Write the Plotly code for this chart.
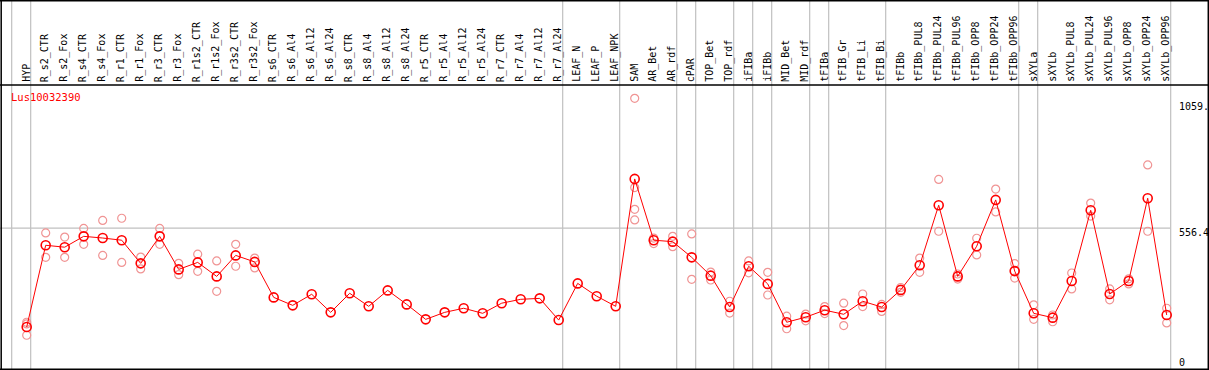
import plotly.graph_objects as go

labels = ["HYP", "R_s2_CTR", "R_s2_Fox", "R_s4_CTR", "R_s4_Fox", "R_r1_CTR", "R_r1_Fox",
          "R_r3_CTR", "R_r3_Fox", "R_r1s2_CTR", "R_r1s2_Fox", "R_r3s2_CTR", "R_r3s2_Fox",
          "R_s6_CTR", "R_s6_Al4", "R_s6_Al12", "R_s6_Al24", "R_s8_CTR", "R_s8_Al4",
          "R_s8_Al12", "R_s8_Al24", "R_r5_CTR", "R_r5_Al4", "R_r5_Al12", "R_r5_Al24",
          "R_r7_CTR", "R_r7_Al4", "R_r7_Al12", "R_r7_Al24", "LEAF_N", "LEAF_P", "LEAF_NPK",
          "SAM", "AR_Bet", "AR_rdf", "cPAR", "TOP_Bet", "TOP_rdf", "iFIBa", "iFIBb",
          "MID_Bet", "MID_rdf", "tFIBa", "tFIB_Gr", "tFIB_Li", "tFIB_Bi", "tFIBb",
          "tFIBb_PUL8", "tFIBb_PUL24", "tFIBb_PUL96", "tFIBb_OPP8", "tFIBb_OPP24", "tFIBb_OPP96",
          "sXYLa", "sXYLb", "sXYLb_PUL8", "sXYLb_PUL24", "sXYLb_PUL96", "sXYLb_OPP8",
          "sXYLb_OPP24", "sXYLb_OPP96"]

mean_vals = [146, 485, 477, 522, 515, 506, 410, 522, 385, 414, 356, 443, 416,
             269, 236, 282, 207, 286, 232, 298, 240, 178, 207, 224, 203, 245, 261, 265, 175,
             327, 274, 232, 760, 506, 500, 435, 359, 229, 398, 325, 166, 187, 216, 199, 253,
             229, 300, 402, 651, 356, 481, 673, 378, 203, 185, 337, 630, 283, 337, 680, 196]

rep_a = [112, 536, 519, 555, 588, 597, 436, 555, 410, 448, 420, 489, 432,
         None, None, None, None, None, None, None, None, None, None, None, None, None, None,
         None, None, None, None, None, 1094, 515, 522, 532, 374, 253, 420, 373, 191, 200,
         231, 245, 283, 240, 310, 432, 758, 366, 514, 718, 409, 238, 196, 370, 660, 304,
         346, 818, 224]
rep_b = [159, 435, 435, 489, 443, 414, 387, 489, 363, 377, 294, 398, 391,
         None, None, None, None, None, None, None, None, None, None, None, None, None, None,
         None, None, None, None, None, 634, 492, 479, 344, 341, 204, 371, 279, 139, 172,
         202, 152, 231, 211, 290, 373, 543, 345, 445, 623, 349, 178, 168, 304, 606, 259,
         325, 543, 163]
rep_c = [166] + [None] * 31 + [590] + [None] * 28
rep_d = [None] * 32 + [724] + [None] * 28

group_starts = [0, 1, 29, 32, 35, 36, 38, 39, 40, 42, 43, 46, 53, 54, 61]
y_ticks = [0, 556.4, 1059]
y_tick_text = ["0", "556.4", "1059."]
gene = "Lus10032390"

W, H = 1209, 370
xs = list(range(len(labels)))
x_lo = -26.7 / 19
x_hi = (W - 26.7) / 19
y_per_px = 1 / 0.2413
y_lo = (362.3 - H) * y_per_px
y_hi = 362.3 * y_per_px


def py(p):
    return 1 - p / H


def px(p):
    return p / W


fig = go.Figure()
pink = "#F09494"
for reps in (rep_a, rep_b, rep_c, rep_d):
    fig.add_trace(go.Scatter(x=xs, y=reps, mode="markers", cliponaxis=False,
                             marker=dict(symbol="circle-open", size=8, color=pink,
                                         line=dict(width=1.2, color=pink)),
                             hoverinfo="skip", showlegend=False))
fig.add_trace(go.Scatter(x=xs, y=mean_vals, mode="lines+markers", cliponaxis=False,
                         line=dict(color="#FF0000", width=1),
                         marker=dict(symbol="circle-open", size=9, color="#FF0000",
                                     line=dict(width=1.6, color="#FF0000")),
                         showlegend=False))

shapes = []
gray = "#C0C0C0"
for g in group_starts:
    shapes.append(dict(type="line", xref="x", yref="paper", x0=g - 0.79, x1=g - 0.79,
                       y0=0, y1=1, line=dict(color=gray, width=1.2), layer="below"))
shapes.append(dict(type="line", xref="paper", yref="y", x0=0, x1=1170 / W,
                   y0=y_ticks[1], y1=y_ticks[1], line=dict(color=gray, width=1.2), layer="below"))
black = "#000000"
for yy in (0.8, 85, 369.2):
    shapes.append(dict(type="line", xref="paper", yref="paper", x0=0, x1=1,
                       y0=py(yy), y1=py(yy), line=dict(color=black, width=1.5)))
for xx in (1.2, 1208.3):
    shapes.append(dict(type="line", xref="paper", yref="paper", x0=px(xx), x1=px(xx),
                       y0=0, y1=1, line=dict(color=black, width=1.5)))

annotations = []
font = dict(family="DejaVu Sans Mono", size=10, color="black")
for i, lab in enumerate(labels):
    annotations.append(dict(x=i - 0.05, y=py(84), xref="x", yref="paper", text=lab,
                            textangle=-90, showarrow=False, xanchor="center",
                            yanchor="bottom", font=font))
for v, t in zip(y_ticks, y_tick_text):
    shift = -4 if t == "556.4" else 0
    annotations.append(dict(x=px(1177), y=v, xref="paper", yref="y", text=t,
                            showarrow=False, xanchor="left", yanchor="middle",
                            yshift=shift, font=font))
annotations.append(dict(x=px(9), y=py(97), xref="paper", yref="paper", text=gene,
                        showarrow=False, xanchor="left", yanchor="middle",
                        font=dict(family="DejaVu Sans Mono", size=10.5, color="#FF0000")))

fig.update_layout(
    width=W, height=H, margin=dict(l=0, r=0, t=0, b=0),
    paper_bgcolor="white", plot_bgcolor="white",
    xaxis=dict(range=[x_lo, x_hi], visible=False, fixedrange=True),
    yaxis=dict(range=[y_lo, y_hi], visible=False, fixedrange=True),
    shapes=shapes, annotations=annotations,
)

fig.write_html("out.html", config={"displayModeBar": False},
               post_script="document.body.style.margin='0';document.body.style.overflow='hidden';")
